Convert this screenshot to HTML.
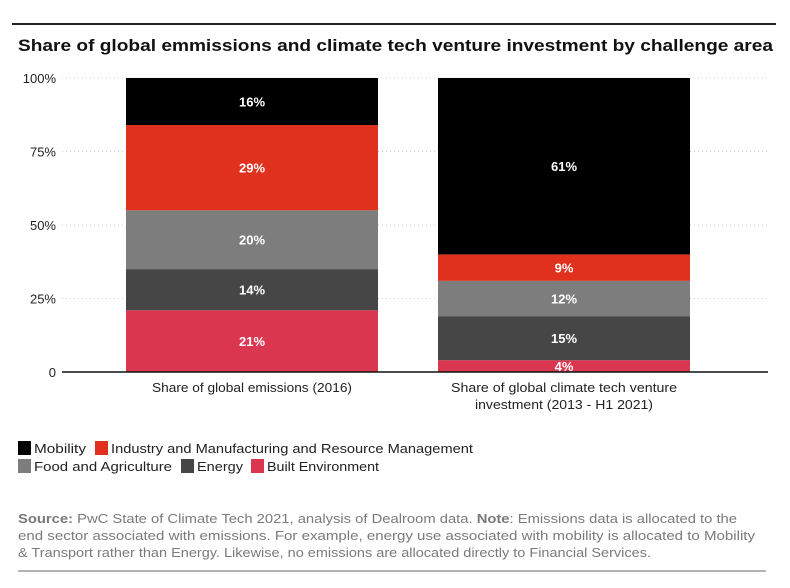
<!DOCTYPE html>
<html><head><meta charset="utf-8"><style>
html,body{margin:0;padding:0;background:#fff;}
svg{display:block;font-family:"Liberation Sans",sans-serif;}
</style></head><body>
<svg id="chart" width="790" height="588" viewBox="0 0 790 588">
<line x1="12" y1="24" x2="776" y2="24" stroke="#222" stroke-width="2"/>
<text x="18" y="51" font-size="17" font-weight="bold" fill="#111" textLength="755" lengthAdjust="spacingAndGlyphs">Share of global emmissions and climate tech venture investment by challenge area</text>
<g id="grid"></g>
<g id="bars"></g>
<line x1="62" y1="372" x2="768" y2="372" stroke="#111" stroke-width="1.5"/>
<g font-size="13" fill="#222" text-anchor="middle">
<text x="252" y="392" textLength="200" lengthAdjust="spacingAndGlyphs">Share of global emissions (2016)</text>
<text x="564" y="392" textLength="226" lengthAdjust="spacingAndGlyphs">Share of global climate tech venture</text>
<text x="564" y="409" textLength="178" lengthAdjust="spacingAndGlyphs">investment (2013 - H1 2021)</text>
</g>
<g font-size="13" fill="#222">
<rect x="18" y="441" width="13" height="14" fill="#000"/>
<text x="34" y="453" textLength="52" lengthAdjust="spacingAndGlyphs">Mobility</text>
<rect x="95" y="441" width="13" height="14" fill="#e0301e"/>
<text x="111" y="453" textLength="362" lengthAdjust="spacingAndGlyphs">Industry and Manufacturing and Resource Management</text>
<rect x="18" y="459" width="13" height="14" fill="#7d7d7d"/>
<text x="34" y="471" textLength="138" lengthAdjust="spacingAndGlyphs">Food and Agriculture</text>
<rect x="181" y="459" width="13" height="14" fill="#464646"/>
<text x="197" y="471" textLength="46" lengthAdjust="spacingAndGlyphs">Energy</text>
<rect x="251" y="459" width="13" height="14" fill="#db3650"/>
<text x="267" y="471" textLength="112" lengthAdjust="spacingAndGlyphs">Built Environment</text>
</g>
<g font-size="13" fill="#7a7a7a">
<text x="18" y="523" textLength="719" lengthAdjust="spacingAndGlyphs"><tspan font-weight="bold">Source:</tspan> PwC State of Climate Tech 2021, analysis of Dealroom data.  <tspan font-weight="bold">Note</tspan>: Emissions data is allocated to the</text>
<text x="18" y="540" textLength="737" lengthAdjust="spacingAndGlyphs">end sector associated with emissions. For example, energy use associated with mobility is allocated to Mobility</text>
<text x="18" y="557" textLength="633" lengthAdjust="spacingAndGlyphs">&amp; Transport rather than Energy. Likewise, no emissions are allocated directly to Financial Services.</text>
</g>
<line x1="18" y1="571" x2="766" y2="571" stroke="#999" stroke-width="1.5"/>
</svg>
<script>
const categories = ["emissions", "investment"];
const seriesNames = ["built", "energy", "food", "industry", "mobility"];
const builtVals = [21, 4];
const energyVals = [14, 15];
const foodVals = [20, 12];
const industryVals = [29, 9];
const mobilityVals = [16, 61];
const tickVals = [0, 25, 50, 75, 100];
const tickLabels = ["0", "25%", "50%", "75%", "100%"];
const colors = {built:"#db3650", energy:"#464646", food:"#7d7d7d", industry:"#e0301e", mobility:"#000000"};
const values = {built:builtVals, energy:energyVals, food:foodVals, industry:industryVals, mobility:mobilityVals};
const NS = "http://www.w3.org/2000/svg";
const y0 = 372, y100 = 78;
function yScale(v){ return y0 - (v/100)*(y0-y100); }
const barLeft = [126, 438], barW = 252;
function xScale(i){ return barLeft[i]; }
const grid = document.getElementById('grid');
tickVals.forEach((t,i)=>{
  if(t>0){
    const l=document.createElementNS(NS,'line');
    l.setAttribute('x1',62);l.setAttribute('x2',770);
    l.setAttribute('y1',yScale(t));l.setAttribute('y2',yScale(t));
    l.setAttribute('stroke','#ccc');l.setAttribute('stroke-dasharray','1 3');
    
    
    grid.appendChild(l);
  }
  const tx=document.createElementNS(NS,'text');
  tx.setAttribute('x',56);tx.setAttribute('y',yScale(t)+5);
  tx.setAttribute('text-anchor','end');tx.setAttribute('font-size','13');tx.setAttribute('fill','#222');
  tx.textContent=tickLabels[i];
  
  
  grid.appendChild(tx);
});
const bars=document.getElementById('bars');
categories.forEach((c,i)=>{
  let cum=0;
  seriesNames.forEach(s=>{
    const v=values[s][i];
    const top=Math.min(100,cum+v);
    const yt=yScale(top), yb=yScale(cum);
    const r=document.createElementNS(NS,'rect');
    r.setAttribute('x',xScale(i));r.setAttribute('width',barW);
    r.setAttribute('y',yt);r.setAttribute('height',Math.max(0,yb-yt));
    r.setAttribute('fill',colors[s]);
    
    
    bars.appendChild(r);
    const t=document.createElementNS(NS,'text');
    t.setAttribute('x',xScale(i)+barW/2);t.setAttribute('y',(yt+yb)/2+5);
    t.setAttribute('text-anchor','middle');t.setAttribute('font-size','13');
    t.setAttribute('font-weight','bold');t.setAttribute('fill','#fff');
    t.textContent=v+'%';
    
    
    bars.appendChild(t);
    cum=top;
  });
});
</script>
</body></html>
